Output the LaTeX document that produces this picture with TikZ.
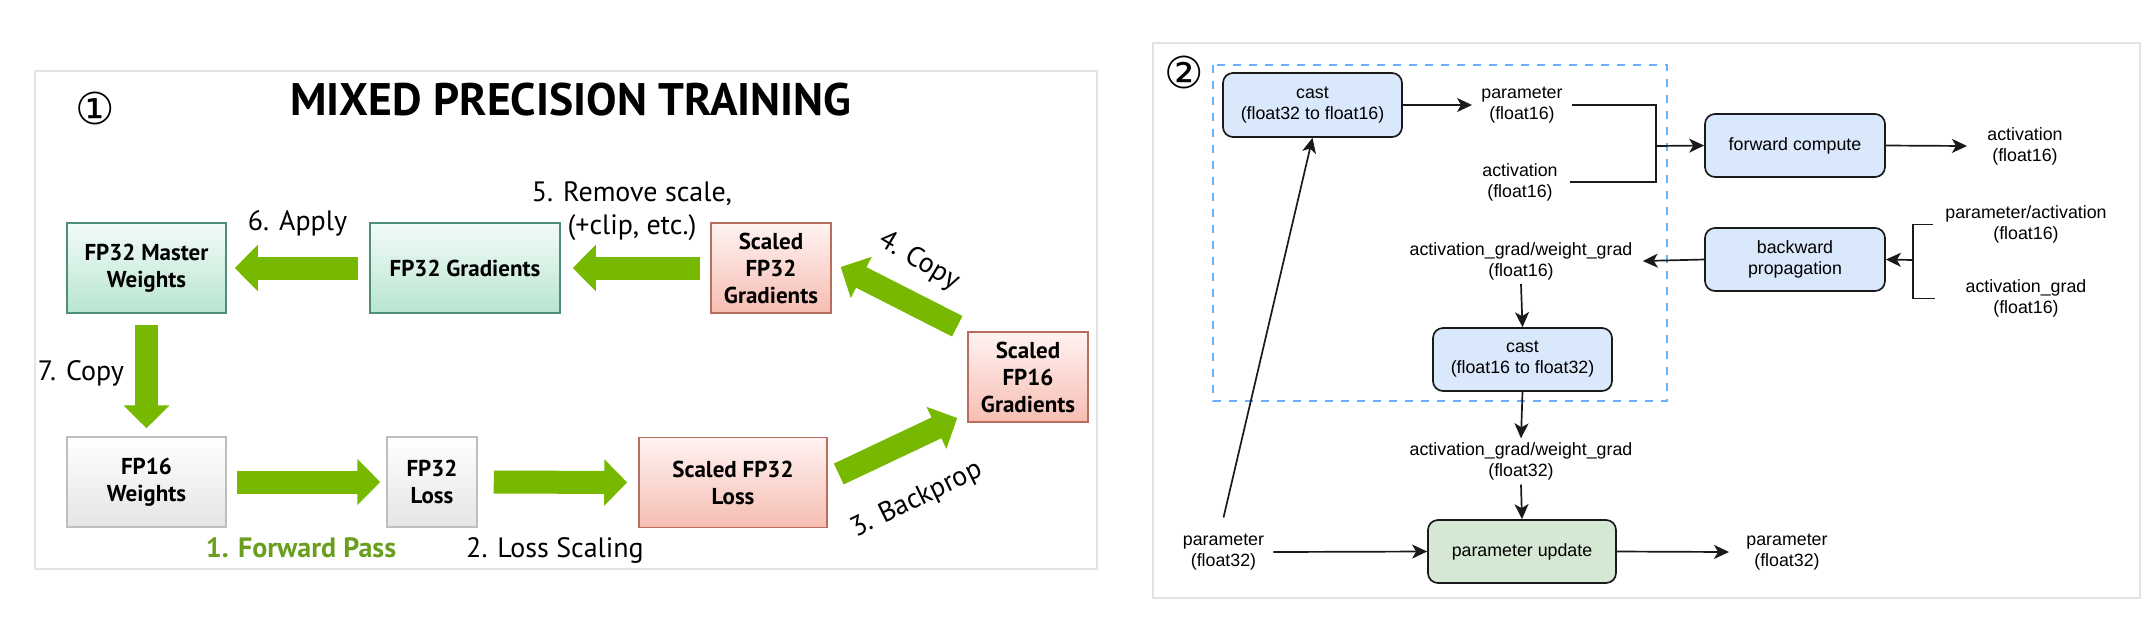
\documentclass[tikz,border=0pt]{standalone}
\usepackage{fontspec}
\setmainfont{PT Sans}
\newfontfamily\helv{Liberation Sans}
\newfontfamily\dejavu{DejaVu Sans}
\usepackage{tikz}
\usetikzlibrary{arrows.meta,calc,positioning}
\definecolor{nvgreen}{HTML}{76B900}
\definecolor{nvtext}{HTML}{6A9E1E}
\definecolor{gboxtop}{HTML}{F2FBF7}
\definecolor{gboxbot}{HTML}{B9E5D1}
\definecolor{gboxline}{HTML}{4F8E78}
\definecolor{rboxtop}{HTML}{FFF3F1}
\definecolor{rboxbot}{HTML}{F6BDB2}
\definecolor{rboxline}{HTML}{B86E5E}
\definecolor{wboxbot}{HTML}{E4E4E4}
\definecolor{wboxline}{HTML}{BEBEBE}
\definecolor{frameline}{HTML}{E3E3E3}
\definecolor{dioblue}{HTML}{DAE8FC}
\definecolor{diogreen}{HTML}{D5E8D4}
\definecolor{dashblue}{HTML}{66B2FF}
\definecolor{diodark}{HTML}{1A1A1A}

\tikzset{
  slidebox/.style={font=\bfseries\fontsize{11.5}{13.5}\selectfont, align=center, minimum height=45pt, inner sep=2pt, line width=0.75pt},
  gbox/.style={slidebox, draw=gboxline, top color=gboxtop, bottom color=gboxbot},
  rbox/.style={slidebox, draw=rboxline, top color=rboxtop, bottom color=rboxbot},
  wbox/.style={slidebox, draw=wboxline, top color=white, bottom color=wboxbot},
  steplab/.style={font=\fontsize{14}{16.5}\selectfont, inner sep=0pt, align=center},
  bigarr/.style={nvgreen, line width=11.5pt, -{Triangle[length=11.5pt,width=22.5pt]}},
  circnum/.style={font=\dejavu\fontsize{22}{22}\selectfont, inner sep=0pt},
  dio/.style={draw=diodark, line width=0.85pt, rounded corners=5pt, font=\helv\fontsize{8.9}{10.5}\selectfont, align=center, minimum height=31.5pt},
  diolab/.style={font=\helv\fontsize{8.9}{10.5}\selectfont, align=center, inner sep=0pt},
  dioarr/.style={diodark, line width=0.85pt, -{Stealth[length=7.5pt,width=7pt,inset=2pt]}},
}

\begin{document}
\begin{tikzpicture}[x=0.5pt,y=-0.5pt]
  \useasboundingbox (0,0) rectangle (2154,618);
  \draw[frameline, line width=0.6pt] (35,71) rectangle (1097,569);
  \draw[frameline, line width=0.6pt] (1153,43) rectangle (2140,598);

  \node[circnum] (one) at (95,108) {①};
  \node[font=\bfseries\fontsize{22.8}{26}\selectfont, anchor=base] (title) at (571,115) {MIXED PRECISION TRAINING};
  \foreach \n/\st/\x/\y/\w/\t in {master/gbox/146.5/268/79.5/{FP32 Master\\Weights}, grad/gbox/465/268/95/{FP32 Gradients}, sgrad/rbox/771/268/60/{Scaled\\FP32\\Gradients}, sg16/rbox/1028/377/60/{Scaled\\FP16\\Gradients}, w16/wbox/146.5/482/79.5/{FP16\\Weights}, l32/wbox/432/482/45/{FP32\\Loss}, sl32/rbox/733/482.5/94/{Scaled FP32\\Loss}} {
    \node[\st, minimum width=\w pt] (\n) at (\x,\y) {\t};
  }
  \draw[bigarr] ($(grad.west)+(-11,0)$) -- ($(master.east)+(8,0)$);
  \draw[bigarr] ($(sgrad.west)+(-10,0)$) -- ($(grad.east)+(12,0)$);
  \draw[bigarr] ($(master.south)+(0,11)$) -- ($(w16.north)+(0,-8)$);
  \draw[bigarr] ($(w16.east)+(10,0)$) -- ($(l32.west)+(-6,0)$);
  \draw[bigarr] ($(l32.east)+(16,0)$) -- ($(sl32.west)+(-11,0)$);
  \draw[bigarr] ($(sl32.east)+(11,-8.5)$) -- ($(sg16.west)+(-10,41)$);
  \draw[bigarr] ($(sg16.north west)+(-10,-5)$) -- ($(sgrad.east)+(9,-1)$);
  \node[steplab, anchor=base] (apply) at (297.5,230) {6. Apply};
  \node[steplab] (remove) at (632,211) {5. Remove scale,\\(+clip, etc.)};
  \node[steplab, anchor=base] (copyw) at (81,380) {7. Copy};
  \node[steplab, anchor=base, text=nvtext, font=\bfseries\fontsize{14}{16.5}\selectfont] (fwdpass) at (301,557) {1. Forward Pass};
  \node[steplab, anchor=base] (lscale) at (555,557) {2. Loss Scaling};
  \node[steplab, rotate=26] (bprop) at (917,500) {3. Backprop};
  \node[steplab, rotate=-31] (copyg) at (919,261) {4. Copy};

  \draw[dashblue, line width=1pt, dash pattern=on 4pt off 4pt] (1213,65) rectangle (1667,401);
  \node[circnum] (two) at (1184,72) {②};
  \node[dio, fill=dioblue, minimum width=89.5pt, minimum height=32pt] (castA) at (1312.5,105) {cast\\(float32 to float16)};
  \node[diolab] (p16) at (1522,105) {parameter\\(float16)};
  \node[diolab] (a16) at (1520,182) {activation\\(float16)};
  \coordinate (fj) at (1656,146);
  \node[dio, fill=dioblue, minimum width=90pt] (fwd) at (1795,145.5) {forward compute};
  \node[diolab] (aout) at (2025,146) {activation\\(float16)};
  \node[dio, fill=dioblue, minimum width=90pt] (bwd) at (1795,259.5) {backward\\propagation};
  \node[diolab] (pa16) at (2026,224.5) {parameter/activation\\(float16)};
  \node[diolab] (ag16) at (2026,298.5) {activation\_grad\\(float16)};
  \coordinate (bj) at (1913,260);
  \node[diolab] (gw16) at (1521,261) {activation\_grad/weight\_grad\\(float16)};
  \node[dio, fill=dioblue, minimum width=89.5pt] (castB) at (1522.5,359.5) {cast\\(float16 to float32)};
  \node[diolab] (gw32) at (1521,461.5) {activation\_grad/weight\_grad\\(float32)};
  \node[dio, fill=diogreen, minimum width=94pt] (upd) at (1522,551.5) {parameter update};
  \node[diolab] (p32in) at (1223.5,552) {parameter\\(float32)};
  \node[diolab] (p32out) at (1787,552) {parameter\\(float32)};

  \draw[dioarr] (castA.east) -- ([xshift=-4.5pt]p16.west);
  \draw[diodark, line width=0.85pt] ([xshift=4.5pt]p16.east) -| (fj) |- ([xshift=6pt]a16.east);
  \draw[dioarr] (fj) -- (fwd.west);
  \draw[dioarr] (fwd.east) -- ([xshift=-10pt]aout.west);
  \draw[diodark, line width=0.85pt] ([xshift=-6pt]pa16.west) -| (bj) |- ([xshift=-15pt]ag16.west);
  \draw[dioarr] (bj) -- (bwd.east);
  \draw[dioarr] (bwd.west) -- ([xshift=5pt]gw16.east);
  \draw[dioarr] ([yshift=-2pt]gw16.south) -- (castB.north);
  \draw[dioarr] (castB.south) -- ([yshift=2pt]gw32.north);
  \draw[dioarr] ([yshift=-2pt]gw32.south) -- (upd.north);
  \draw[dioarr] ([yshift=8pt]p32in.north) -- (castA.south);
  \draw[dioarr] ([xshift=4.5pt]p32in.east) -- (upd.west);
  \draw[dioarr] (upd.east) -- ([xshift=-8.5pt]p32out.west);
\end{tikzpicture}
\end{document}
